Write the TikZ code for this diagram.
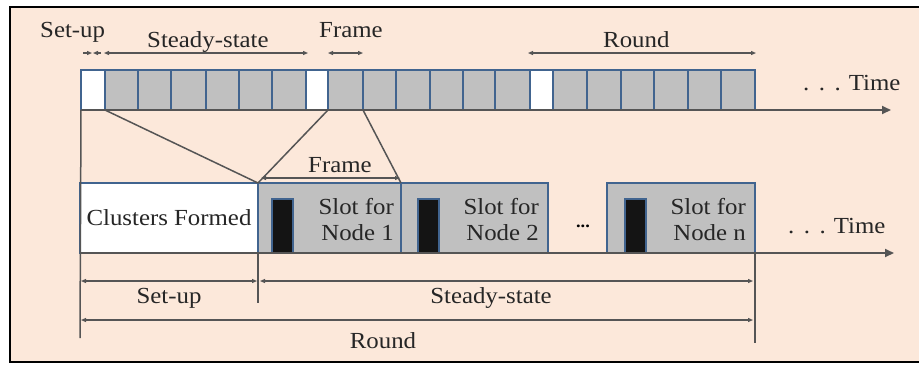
\documentclass[tikz,border=0pt]{standalone}
\usepackage{fontspec}
\setmainfont[FakeStretch=1.08]{Liberation Serif}
\usetikzlibrary{arrows.meta}
\definecolor{bg}{HTML}{FCE8DA}
\definecolor{cellgray}{HTML}{C0C0C0}
\definecolor{cellblue}{HTML}{41648F}
\definecolor{linegray}{HTML}{555555}
\tikzset{
  cell/.style={draw=cellblue, line width=2pt, inner sep=0pt, outer sep=0pt, anchor=north west, minimum height=40pt},
  slotbox/.style={draw=cellblue, line width=2pt, fill=cellgray, inner sep=0pt, outer sep=0pt, anchor=north west, minimum height=70pt},
  txbox/.style={draw=cellblue, line width=2pt, fill=black!92, inner sep=0pt, outer sep=0pt, anchor=south west, minimum width=21pt, minimum height=54pt},
  lbl/.style={font=\fontsize{23}{26}\selectfont, inner sep=0pt, text=black!85},
  dim/.style={draw=linegray, line width=1.1pt, {Triangle[length=5pt,width=4pt]}-{Triangle[length=5pt,width=4pt]}},
  onetip/.style={draw=linegray, line width=1.1pt, -{Triangle[length=5pt,width=4pt]}},
  conn/.style={draw=linegray, line width=1.5pt},
  axis/.style={draw=linegray, line width=2pt, -{Triangle[length=9pt,width=8pt]}},
}
\begin{document}
\begin{tikzpicture}[x=1pt,y=-1pt]
\useasboundingbox (0,0) rectangle (919,365);
\fill[white] (0,0) rectangle (919,365);
\fill[bg] (10,7) rectangle (919,362);
\draw[black, line width=2.5pt] (919,7) -- (10,7) -- (10,362) -- (919,362);

% coordinates for free ends
\coordinate (topend) at (891,110);
\coordinate (botend) at (894,253);

% top bar cells
\foreach \a/\b/\f [count=\i] in {81/105/white,105/138/cellgray,138/171/cellgray,171/206/cellgray,206/239/cellgray,239/272/cellgray,272/306/cellgray,
  306/328/white,328/363/cellgray,363/396/cellgray,396/430/cellgray,430/463/cellgray,463/495/cellgray,495/530/cellgray,
  530/553/white,553/587/cellgray,587/621/cellgray,621/654/cellgray,654/688/cellgray,688/721/cellgray,721/755/cellgray}{
  \pgfmathsetmacro\w{\b-\a}
  \node[cell, fill=\f, minimum width=\w pt] (c\i) at (\a,70) {};
}

% bottom row boxes
\node[slotbox, fill=white, minimum width=178pt] (clus) at (80,183) {};
\node[lbl] at (clus.center) {Clusters Formed};
\node[slotbox, minimum width=143pt] (s1) at (258,183) {};
\node[slotbox, minimum width=147pt] (s2) at (401,183) {};
\node[slotbox, minimum width=148pt] (sn) at (607,183) {};
\node[txbox] (b1) at (272,253) {};
\node[txbox] (b2) at (418,253) {};
\node[txbox] (bn) at (625,253) {};
\node[lbl, align=right, anchor=east] (t1) at (394,220) {Slot for\\Node 1};
\node[lbl, align=right, anchor=east] (t2) at (539,220) {Slot for\\Node 2};
\node[lbl, align=right, anchor=east] (tn) at (746,220) {Slot for\\Node n};
\node[inner sep=0pt, font=\fontsize{17}{17}\selectfont\bfseries] (ell) at (583,226) {...};

% axes
\draw[axis] (c1.south west) -- (topend);
\draw[axis] (clus.south west) -- (botend);
\node[lbl, anchor=base west] (time1) at (803,90) {.\kern9.5pt.\kern9.5pt.\kern8pt Time};
\node[lbl, anchor=base west] (time2) at (788,233) {.\kern9.5pt.\kern9.5pt.\kern8pt Time};

% connectors
\draw[conn] (c1.south east) -- (clus.north east);
\draw[conn] (c8.south east) -- (s1.north west);
\draw[conn] (c9.south east) -- (s1.north east);

% top labels and dimensions
\node[lbl, anchor=base west] (lsetup) at (40,37) {Set-up};
\node[lbl, anchor=base west] (lsteady) at (147,47) {Steady-state};
\node[lbl, anchor=base west] (lframe) at (319,37) {Frame};
\node[lbl, anchor=base west] (lround) at (603,47) {Round};
\coordinate (su1) at (83,53); \coordinate (su2) at (92,53);
\coordinate (su3) at (101,53); \coordinate (su4) at (93,53);
\draw[onetip] (su1) -- (su2);
\draw[onetip] (su3) -- (su4);
\coordinate (ss1) at (104,53); \coordinate (ss2) at (308,53);
\draw[dim] (ss1) -- (ss2);
\coordinate (fr1) at (328,53); \coordinate (fr2) at (363,53);
\draw[dim] (fr1) -- (fr2);
\coordinate (rd1) at (528,53); \coordinate (rd2) at (756,53);
\draw[dim] (rd1) -- (rd2);

% bottom frame dimension
\node[lbl, anchor=base west] (lframe2) at (308,172) {Frame};
\coordinate (bf1) at (261,178); \coordinate (bf2) at (400,178);
\draw[dim] (bf1) -- (bf2);

% vertical extension lines
\coordinate (v1) at (80,338);
\coordinate (v2) at (258,303);
\coordinate (v3) at (755,343);
\draw[conn] (c1.south west) -- (v1);
\draw[conn] (s1.south west) -- (v2);
\draw[conn] (sn.south east) -- (v3);

% bottom dimensions
\coordinate (d1) at (81,281); \coordinate (d2) at (257,281);
\coordinate (d3) at (260,281); \coordinate (d4) at (753,281);
\coordinate (d5) at (81,320); \coordinate (d6) at (753,320);
\draw[dim] (d1) -- (d2);
\draw[dim] (d3) -- (d4);
\draw[dim] (d5) -- (d6);
\node[lbl, anchor=base] (bsetup) at (169,303) {Set-up};
\node[lbl, anchor=base] (bsteady) at (491,303) {Steady-state};
\node[lbl, anchor=base] (bround) at (383,348) {Round};
\end{tikzpicture}
\end{document}
